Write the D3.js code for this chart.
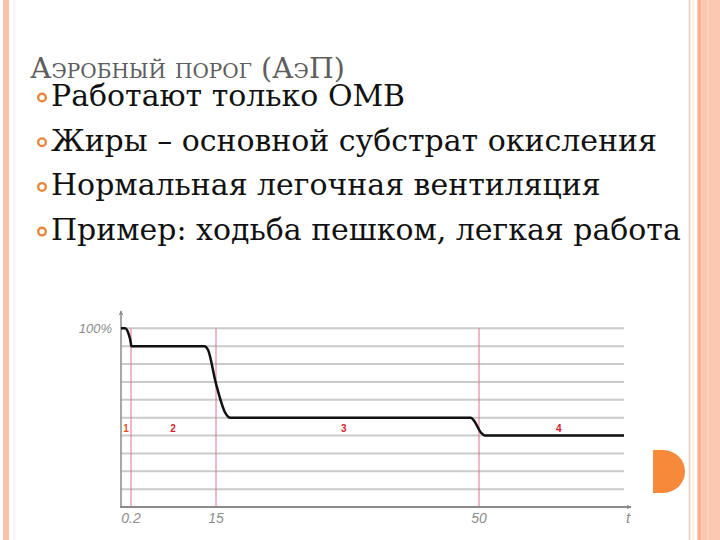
<!DOCTYPE html>
<html>
<head>
<meta charset="utf-8">
<script src="https://cdn.jsdelivr.net/npm/d3@7"></script>
<style>
  body { margin: 0; background: #fff; }
  svg { display: block; }
</style>
</head>
<body>
<div id="chart"></div>
<script>

// slide texts
var title = "Аэробный порог (АэП)";
var bullets = [
  "Работают только ОМВ",
  "Жиры – основной субстрат окисления",
  "Нормальная легочная вентиляция",
  "Пример: ходьба пешком, легкая работа"
];

// chart data
var curveT = [0, 0.08, 0.15, 0.2, 0.23, 13.0, 13.6, 15, 16.2, 16.9, 48.9, 49.3, 50.3, 50.8, 70];
var curveV = [100, 100, 97, 91, 90, 90, 88, 69, 53, 50, 50, 48.5, 41.5, 40, 40];
var phaseBounds = [0.2, 15, 50];
var phaseLabels = ["1", "2", "3", "4"];
var phaseLabelT = [0.1, 7.5, 32, 61];
var xTickValues = [0.2, 15, 50];
var xTickLabels = ["0.2", "15", "50"];
var yGrid = [10, 20, 30, 40, 50, 60, 70, 80, 90, 100];

var W = 720, H = 540;

var svg = d3.select("#chart").append("svg")
    .attr("width", W)
    .attr("height", H);

svg.append("rect").attr("width", W).attr("height", H).attr("fill", "#fff");

// slide borders
svg.append("rect").attr("x", 3).attr("y", 0).attr("width", 6).attr("height", H).attr("fill", "#fcc2aa");
svg.append("line").attr("x1", 14).attr("x2", 14).attr("y1", 0).attr("y2", H)
    .attr("stroke", "#fdeee4").attr("stroke-width", 1);
svg.append("rect").attr("x", 697).attr("y", 0).attr("width", 23).attr("height", H).attr("fill", "#fdc8b2");
svg.append("line").attr("x1", 689.5).attr("x2", 689.5).attr("y1", 0).attr("y2", H)
    .attr("stroke", "#ecc8b6").attr("stroke-width", 1.5);
svg.append("line").attr("x1", 693).attr("x2", 693).attr("y1", 0).attr("y2", H)
    .attr("stroke", "#fbefe4").attr("stroke-width", 2);
svg.append("line").attr("x1", 699.5).attr("x2", 699.5).attr("y1", 0).attr("y2", H)
    .attr("stroke", "#f5a484").attr("stroke-width", 2);
svg.append("line").attr("x1", 708).attr("x2", 708).attr("y1", 0).attr("y2", H)
    .attr("stroke", "#fdd4c2").attr("stroke-width", 2);

function fitWidth(sel, target, size) {
  var w = sel.node().getComputedTextLength();
  sel.attr("font-size", size * target / w);
}

// title
var titleText = svg.append("text")
    .attr("x", 30).attr("y", 78)
    .attr("font-family", "DejaVu Serif")
    .attr("font-size", 20)
    .style("font-variant", "small-caps")
    .attr("fill", "#5e5e5e")
    .text(title);
fitWidth(titleText, 314, 20);

// bullets
var rowY = function(i) { return 106 + i * 44.7; };
var rows = svg.selectAll(".row")
    .data(bullets)
  .enter().append("text")
    .attr("class", "row")
    .attr("x", 51)
    .attr("y", function(d, i) { return rowY(i); })
    .attr("font-family", "DejaVu Serif")
    .attr("font-size", 28)
    .attr("fill", "#111")
    .text(function(d) { return d; });
// common size taken from the longest row
var longest = rows.filter(function(d, i) { return i === 1; });
var bulletSize = 28 * 606 / longest.node().getComputedTextLength();
rows.attr("font-size", bulletSize);

svg.selectAll(".dot")
    .data(bullets)
  .enter().append("circle")
    .attr("cx", 42)
    .attr("cy", function(d, i) { return rowY(i) - 8.5; })
    .attr("r", 3.8)
    .attr("fill", "#fff")
    .attr("stroke", "#e8873c")
    .attr("stroke-width", 2.4);

// chart scales (time axis is not uniform in the picture)
var x = d3.scaleLinear()
    .domain([0, 0.2, 15, 50, 70])
    .range([121, 131, 216, 479, 624]);
var y = d3.scaleLinear()
    .domain([0, 100])
    .range([507, 328.3]);

// grid lines
svg.selectAll(".grid")
    .data(yGrid)
  .enter().append("line")
    .attr("class", "grid")
    .attr("x1", x(0)).attr("x2", x(70))
    .attr("y1", function(d) { return y(d); })
    .attr("y2", function(d) { return y(d); })
    .attr("stroke", "#cacaca")
    .attr("stroke-width", 2);

// phase boundaries
svg.selectAll(".bound")
    .data(phaseBounds)
  .enter().append("line")
    .attr("class", "bound")
    .attr("x1", function(d) { return x(d); })
    .attr("x2", function(d) { return x(d); })
    .attr("y1", y(100)).attr("y2", y(0))
    .attr("stroke", "#e4708a")
    .attr("stroke-width", 1);

// axes with arrows
var defs = svg.append("defs");
defs.append("marker")
    .attr("id", "arrow")
    .attr("viewBox", "0 0 10 10")
    .attr("refX", 9).attr("refY", 5)
    .attr("markerWidth", 7).attr("markerHeight", 5)
    .attr("markerUnits", "userSpaceOnUse")
    .attr("orient", "auto")
  .append("path")
    .attr("d", "M0,0 L10,5 L0,10 L3,5 Z")
    .attr("fill", "#8a8a8a");

svg.append("line")
    .attr("x1", x(0)).attr("x2", x(0))
    .attr("y1", y(0) + 1).attr("y2", 311)
    .attr("stroke", "#8a8a8a").attr("stroke-width", 1.5)
    .attr("marker-end", "url(#arrow)");
svg.append("line")
    .attr("x1", x(0) - 1).attr("x2", 631)
    .attr("y1", y(0)).attr("y2", y(0))
    .attr("stroke", "#8a8a8a").attr("stroke-width", 2)
    .attr("marker-end", "url(#arrow)");

// curve
var points = curveT.map(function(t, i) { return [t, curveV[i]]; });
var line = d3.line()
    .x(function(d) { return x(d[0]); })
    .y(function(d) { return y(d[1]); })
    .curve(d3.curveMonotoneX);
svg.append("path")
    .datum(points)
    .attr("d", line)
    .attr("fill", "none")
    .attr("stroke", "#111")
    .attr("stroke-width", 2.5);

// phase numbers
svg.selectAll(".phase")
    .data(phaseLabels)
  .enter().append("text")
    .attr("class", "phase")
    .attr("x", function(d, i) { return x(phaseLabelT[i]); })
    .attr("y", 431.5)
    .attr("text-anchor", "middle")
    .attr("font-family", "Liberation Sans, Arial")
    .attr("font-size", 10)
    .attr("font-weight", "bold")
    .attr("fill", function(d, i) { return i === 0 ? "#e8501e" : "#d8202a"; })
    .text(function(d) { return d; });

// axis labels
var labelFont = "Liberation Sans, Arial";
svg.append("text")
    .attr("x", 112).attr("y", 333)
    .attr("text-anchor", "end")
    .attr("font-family", labelFont)
    .attr("font-style", "italic")
    .attr("font-size", 13)
    .attr("fill", "#8c8c8c")
    .text("100%");

svg.selectAll(".xtick")
    .data(xTickValues)
  .enter().append("text")
    .attr("class", "xtick")
    .attr("x", function(d) { return x(d); })
    .attr("y", 523)
    .attr("text-anchor", "middle")
    .attr("font-family", labelFont)
    .attr("font-style", "italic")
    .attr("font-size", 14)
    .attr("fill", "#8c8c8c")
    .text(function(d, i) { return xTickLabels[i]; });

svg.append("text")
    .attr("x", 628).attr("y", 523)
    .attr("text-anchor", "middle")
    .attr("font-family", labelFont)
    .attr("font-style", "italic")
    .attr("font-size", 15)
    .attr("fill", "#8c8c8c")
    .text("t");

// orange half disc at the right edge
svg.append("path")
    .attr("d", "M653,450 L663,450 A22,21.5 0 0 1 663,493 L653,493 Z")
    .attr("fill", "#f7893a");

</script>
</body>
</html>
